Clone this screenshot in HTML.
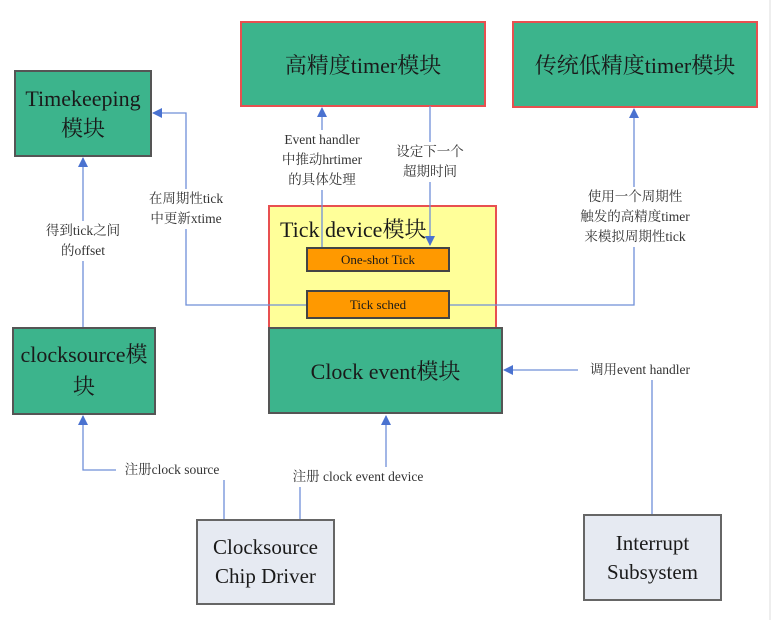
<!DOCTYPE html>
<html><head><meta charset="utf-8"><style>
body{margin:0;background:#fff;width:774px;height:620px;overflow:hidden;position:relative;font-family:"Liberation Serif","Noto Serif CJK SC",serif}
.b{position:absolute;box-sizing:border-box;display:flex;align-items:center;justify-content:center;text-align:center;color:#1a1a1a}
.g{background:#3cb48c;border:2px solid #555}
.r{border-color:#e85050}
.l{position:absolute;font-size:13.5px;color:#333;text-align:center;line-height:20px;background:#fff;white-space:nowrap}
.w{background:#e6eaf2;border:2px solid #666}
</style></head><body>
<div class="b g" style="left:14px;top:70px;width:138px;height:87px;font-size:22px;line-height:30px">Timekeeping<br>模块</div>
<div class="b g r" style="left:240px;top:21px;width:246px;height:86px;font-size:22px">高精度timer模块</div>
<div class="b g r" style="left:512px;top:21px;width:246px;height:87px;font-size:22px">传统低精度timer模块</div>
<div class="b" style="left:268px;top:205px;width:229px;height:124px;background:#ffff99;border:2px solid #e85050;align-items:flex-start;justify-content:flex-start;padding:6px 0 0 10px;font-size:22px">Tick device模块</div>
<div class="b g" style="left:268px;top:327px;width:235px;height:87px;font-size:22px">Clock event模块</div>
<div class="b g" style="left:12px;top:327px;width:144px;height:88px;font-size:22px;line-height:32px">clocksource模<br>块</div>
<div class="b w" style="left:196px;top:519px;width:139px;height:86px;font-size:21px;line-height:29px">Clocksource<br>Chip Driver</div>
<div class="b w" style="left:583px;top:514px;width:139px;height:87px;font-size:21px;line-height:29px">Interrupt<br>Subsystem</div>
<svg width="774" height="620" style="position:absolute;left:0;top:0">
<defs><marker id="a" markerWidth="10" markerHeight="10" refX="9" refY="5" orient="auto" markerUnits="userSpaceOnUse"><path d="M0,0 L10,5 L0,10 z" fill="#4a72d0"/></marker></defs>
<g stroke="#6f8fd8" stroke-width="1.3" fill="none">
<path d="M83 327 V158" marker-end="url(#a)"/>
<path d="M306 305 H186 V113 H153" marker-end="url(#a)"/>
<path d="M322 247 V108" marker-end="url(#a)"/>
<path d="M430 106 V245" marker-end="url(#a)"/>
<path d="M449 305 H634 V109" marker-end="url(#a)"/>
<path d="M652 514 V370 H504" marker-end="url(#a)"/>
<path d="M224 519 V470 H83 V416" marker-end="url(#a)"/>
<path d="M300 519 V480"/>
<path d="M386 470 V416" marker-end="url(#a)"/>
</g>
<line x1="770" y1="0" x2="770" y2="620" stroke="#ddd"/>
</svg>
<div class="b" style="left:306px;top:247px;width:144px;height:25px;background:#ff9900;border:2px solid #444;font-size:13px">One-shot Tick</div>
<div class="b" style="left:306px;top:290px;width:144px;height:29px;background:#ff9900;border:2px solid #444;font-size:13px">Tick sched</div>
<div class="l" style="left:36px;top:221px;width:94px">得到tick之间<br>的offset</div>
<div class="l" style="left:136px;top:189px;width:100px">在周期性tick<br>中更新xtime</div>
<div class="l" style="left:272px;top:130px;width:100px">Event handler<br>中推动hrtimer<br>的具体处理</div>
<div class="l" style="left:390px;top:142px;width:80px">设定下一个<br>超期时间</div>
<div class="l" style="left:574px;top:187px;width:122px">使用一个周期性<br>触发的高精度timer<br>来模拟周期性tick</div>
<div class="l" style="left:578px;top:360px;width:124px">调用event handler</div>
<div class="l" style="left:116px;top:460px;width:112px">注册clock source</div>
<div class="l" style="left:282px;top:467px;width:152px">注册 clock event device</div>
</body></html>
